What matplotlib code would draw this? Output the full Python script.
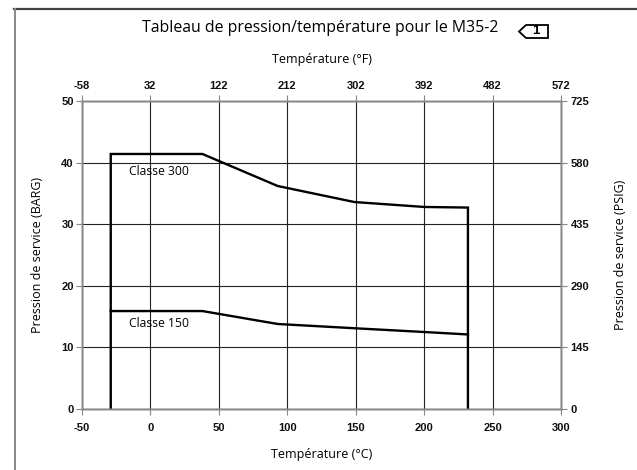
import matplotlib
matplotlib.use("Agg")
import matplotlib.pyplot as plt
from matplotlib.lines import Line2D
from matplotlib.patches import Polygon

plt.rcParams["axes.unicode_minus"] = False

# Data
temp_c_300 = [-29, -29, 38, 93, 149, 200, 232, 232]
pres_300 = [0, 41.4, 41.4, 36.2, 33.6, 32.8, 32.7, 0]
temp_c_150 = [-29, 38, 93, 150, 200, 232]
pres_150 = [15.9, 15.9, 13.8, 13.1, 12.5, 12.1]

x_ticks_c = [-50, 0, 50, 100, 150, 200, 250, 300]
x_ticks_f = ["-58", "32", "122", "212", "302", "392", "482", "572"]
y_ticks_bar = [0, 10, 20, 30, 40, 50]
y_ticks_psi = ["0", "145", "290", "435", "580", "725"]

W, H = 637, 470
fig = plt.figure(figsize=(W / 100, H / 100), dpi=100)
ax = fig.add_axes([82 / W, 1 - 409 / H, (561 - 82) / W, (409 - 101) / H])

lab_font = "Open Sans"


def style_labels(labels):
    for lbl in labels:
        lbl.set_fontfamily("Liberation Sans")
        lbl.set_fontsize(8)
        lbl.set_fontweight("bold")
        lbl.set_color("#111111")


ax.set_xlim(-50, 300)
ax.set_ylim(0, 50)
ax.set_xticks(x_ticks_c)
ax.set_yticks(y_ticks_bar)
ax.grid(True, color="#222222", lw=0.8)
ax.set_axisbelow(True)

ax.plot(temp_c_300, pres_300, color="black", lw=1.7, solid_joinstyle="miter")
ax.plot(temp_c_150, pres_150, color="black", lw=1.7)

ax.text(-15.5, 38.5, "Classe 300", family=lab_font, fontsize=8.7, va="center", ha="left")
ax.text(-15.5, 13.9, "Classe 150", family=lab_font, fontsize=8.7, va="center", ha="left")

for sp in ax.spines.values():
    sp.set_color("#888888")
    sp.set_linewidth(1.0)

ax.tick_params(axis="x", direction="out", length=4, width=0.8, color="#888888", pad=6)
ax.tick_params(axis="y", direction="out", length=4, width=0.8, color="#888888", pad=2)
style_labels(ax.get_xticklabels() + ax.get_yticklabels())

ax.set_xlabel("Température (°C)", family=lab_font, fontsize=9, labelpad=11)
ax.set_ylabel("Pression de service (BARG)", family=lab_font, fontsize=9, labelpad=12)

axt = ax.twiny()
axt.set_xlim(ax.get_xlim())
axt.set_xticks(x_ticks_c)
axt.set_xticklabels(x_ticks_f)
axt.tick_params(direction="out", length=4, width=0.8, color="#888888", pad=3)
style_labels(axt.get_xticklabels())
axt.set_xlabel("Température (°F)", family=lab_font, fontsize=9, labelpad=13)

axr = ax.twinx()
axr.set_ylim(ax.get_ylim())
axr.set_yticks(y_ticks_bar)
axr.set_yticklabels(y_ticks_psi)
axr.tick_params(direction="out", length=4, width=0.8, color="#888888", pad=3)
style_labels(axr.get_yticklabels())
axr.set_ylabel("Pression de service (PSIG)", family=lab_font, fontsize=9, labelpad=18)

for a in (axt, axr):
    for sp in a.spines.values():
        sp.set_color("#888888")
        sp.set_linewidth(1.0)

# Title
fig.text(320 / W, 1 - 28 / H, "Tableau de pression/température pour le M35-2",
         family=lab_font, fontsize=11.4, ha="center", va="center")

# Icon
pts = [(519, 31.5), (526, 25), (548, 25), (548, 38), (526, 38)]
fig.patches.append(Polygon([(x / W, 1 - y / H) for x, y in pts], closed=True,
                           fill=False, ec="black", lw=1.3, transform=fig.transFigure))
fig.text(536 / W, 1 - 31.5 / H, "1", family="Liberation Sans", fontsize=9.5,
         weight="bold", ha="center", va="center")

# Border
fig.add_artist(Line2D([14 / W, 1], [1 - 9 / H, 1 - 9 / H], color="#444444", lw=1.6,
                      transform=fig.transFigure))
fig.add_artist(Line2D([14.5 / W, 14.5 / W], [0, 1 - 9 / H], color="#888888", lw=1.4,
                      transform=fig.transFigure))

fig.savefig("out.png", dpi=100)
